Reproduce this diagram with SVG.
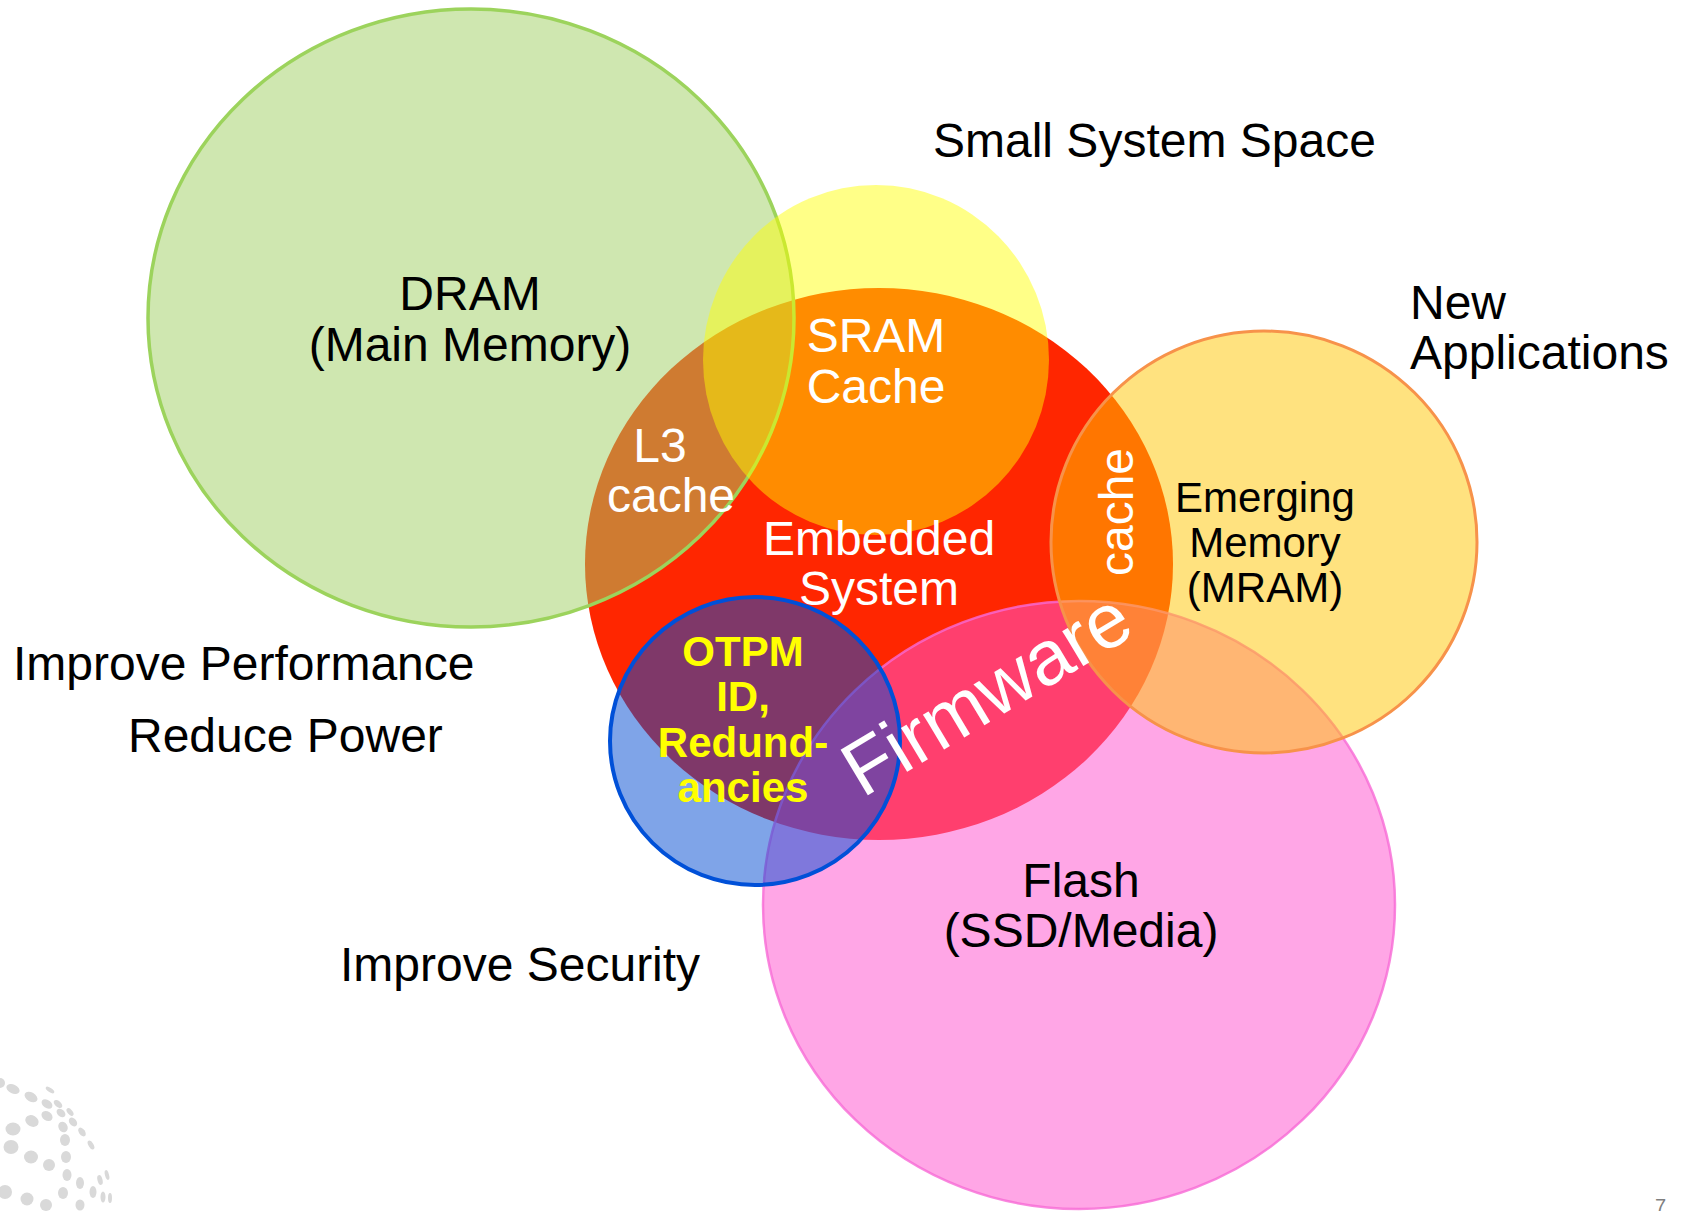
<svg xmlns="http://www.w3.org/2000/svg" width="1684" height="1211" viewBox="0 0 1684 1211">
<style>
text{font-family:"Liberation Sans",Arial,sans-serif;}
.lbl{font-size:48px;text-anchor:middle;}
.blk{fill:#000000;}
.wht{fill:#ffffff;}
.side{font-size:48px;fill:#000000;}
.em{font-size:42px;text-anchor:middle;fill:#000000;}
.otp{font-size:42px;font-weight:bold;text-anchor:middle;fill:#ffff00;}
.dot{fill:#d9d9d9;}
</style>
<rect x="0" y="0" width="1684" height="1211" fill="#ffffff"/>
<g id="decoration">
<circle class="dot" cx="0" cy="1083" r="5"/>
<ellipse class="dot" cx="13" cy="1089" rx="7" ry="4.5" transform="rotate(25 13 1089)"/>
<ellipse class="dot" cx="31" cy="1097" rx="7" ry="4.5" transform="rotate(30 31 1097)"/>
<ellipse class="dot" cx="50" cy="1090" rx="5" ry="2" transform="rotate(35 50 1090)"/>
<ellipse class="dot" cx="47" cy="1104" rx="6" ry="4" transform="rotate(35 47 1104)"/>
<ellipse class="dot" cx="58" cy="1104" rx="5" ry="3" transform="rotate(40 58 1104)"/>
<ellipse class="dot" cx="70" cy="1112" rx="4.5" ry="2.5" transform="rotate(50 70 1112)"/>
<ellipse class="dot" cx="61" cy="1113" rx="5" ry="3.5" transform="rotate(40 61 1113)"/>
<ellipse class="dot" cx="47" cy="1116" rx="6" ry="4.5" transform="rotate(35 47 1116)"/>
<ellipse class="dot" cx="32" cy="1121" rx="7" ry="5.5" transform="rotate(30 32 1121)"/>
<ellipse class="dot" cx="13" cy="1129" rx="7.5" ry="6.5"/>
<ellipse class="dot" cx="11" cy="1147" rx="7.5" ry="7"/>
<ellipse class="dot" cx="31" cy="1157" rx="7" ry="6.5"/>
<ellipse class="dot" cx="49" cy="1165" rx="6" ry="6"/>
<ellipse class="dot" cx="63" cy="1127" rx="4.5" ry="5.5" transform="rotate(-30 63 1127)"/>
<ellipse class="dot" cx="65" cy="1140" rx="5" ry="6"/>
<ellipse class="dot" cx="66" cy="1157" rx="5" ry="6"/>
<ellipse class="dot" cx="73" cy="1122" rx="3.5" ry="5" transform="rotate(-40 73 1122)"/>
<ellipse class="dot" cx="82" cy="1132" rx="3" ry="5" transform="rotate(-35 82 1132)"/>
<ellipse class="dot" cx="91" cy="1145" rx="2.5" ry="5" transform="rotate(-30 91 1145)"/>
<ellipse class="dot" cx="67" cy="1175" rx="4.5" ry="6"/>
<ellipse class="dot" cx="80" cy="1183" rx="4" ry="6"/>
<ellipse class="dot" cx="93" cy="1192" rx="3.5" ry="6"/>
<ellipse class="dot" cx="100" cy="1180" rx="2.5" ry="5" transform="rotate(-15 100 1180)"/>
<ellipse class="dot" cx="107" cy="1175" rx="2" ry="5" transform="rotate(-15 107 1175)"/>
<ellipse class="dot" cx="103" cy="1197" rx="2.5" ry="5.5"/>
<ellipse class="dot" cx="110" cy="1198" rx="2" ry="5"/>
<ellipse class="dot" cx="5" cy="1192" rx="7" ry="7"/>
<ellipse class="dot" cx="27" cy="1199" rx="6.5" ry="6.5"/>
<ellipse class="dot" cx="46" cy="1205" rx="6" ry="6"/>
<ellipse class="dot" cx="63" cy="1193" rx="5" ry="6"/>
<ellipse class="dot" cx="80" cy="1205" rx="4.5" ry="5.5"/>
</g>
<g id="node-embedded">
<ellipse cx="879" cy="564" rx="294" ry="276" fill="#ff2600"/>
</g>
<g id="node-dram">
<ellipse cx="471" cy="318" rx="323" ry="309" fill="#a0d061" fill-opacity="0.5" stroke="#9cd35c" stroke-width="3.5"/>
</g>
<g id="node-sram">
<ellipse cx="876" cy="360" rx="173" ry="175" fill="#ffff00" fill-opacity="0.47"/>
</g>
<g id="node-flash">
<ellipse cx="1079" cy="905" rx="316" ry="304" fill="#ff57d0" fill-opacity="0.53" stroke="#f76ad6" stroke-opacity="0.8" stroke-width="2.5"/>
</g>
<g id="node-mram">
<ellipse cx="1264" cy="542" rx="213" ry="211" fill="#ffc500" fill-opacity="0.5" stroke="#f7924a" stroke-width="3"/>
</g>
<g id="node-otpm">
<ellipse cx="755" cy="741" rx="145" ry="144" fill="#0049d2" fill-opacity="0.5" stroke="#0050d8" stroke-width="4"/>
</g>
<g id="connectors"></g>
<g id="label-dram">
<text class="lbl blk" x="470" y="310">DRAM</text>
<text class="lbl blk" x="470" y="361">(Main Memory)</text>
</g>
<g id="label-sram">
<text class="lbl wht" x="876" y="352">SRAM</text>
<text class="lbl wht" x="876" y="403">Cache</text>
</g>
<g id="label-l3">
<text class="lbl wht" x="660" y="462">L3</text>
<text class="lbl wht" x="671" y="512">cache</text>
</g>
<g id="label-embedded">
<text class="lbl wht" x="879" y="555">Embedded</text>
<text class="lbl wht" x="879" y="605">System</text>
</g>
<g id="label-cache">
<text class="lbl wht" transform="translate(1133 512) rotate(-90)" x="0" y="0">cache</text>
</g>
<g id="label-mram">
<text class="em" x="1265" y="512">Emerging</text>
<text class="em" x="1265" y="557">Memory</text>
<text class="em" x="1265" y="602">(MRAM)</text>
</g>
<g id="label-firmware">
<text class="wht" transform="translate(1000 716) rotate(-31)" x="0" y="0" font-size="77" text-anchor="middle">Firmware</text>
</g>
<g id="label-otpm">
<text class="otp" x="743" y="666">OTPM</text>
<text class="otp" x="743" y="711">ID,</text>
<text class="otp" x="743" y="757">Redund-</text>
<text class="otp" x="743" y="802">ancies</text>
</g>
<g id="label-flash">
<text class="lbl blk" x="1081" y="897">Flash</text>
<text class="lbl blk" x="1081" y="947">(SSD/Media)</text>
</g>
<g id="annotations">
<text class="side" x="933" y="157">Small System Space</text>
<text class="side" x="1410" y="319">New</text>
<text class="side" x="1410" y="369">Applications</text>
<text class="side" x="13" y="680">Improve Performance</text>
<text class="side" x="128" y="752">Reduce Power</text>
<text class="side" x="340" y="981">Improve Security</text>
<text x="1655" y="1213" font-size="20" fill="#7f7f7f">7</text>
</g>
</svg>
